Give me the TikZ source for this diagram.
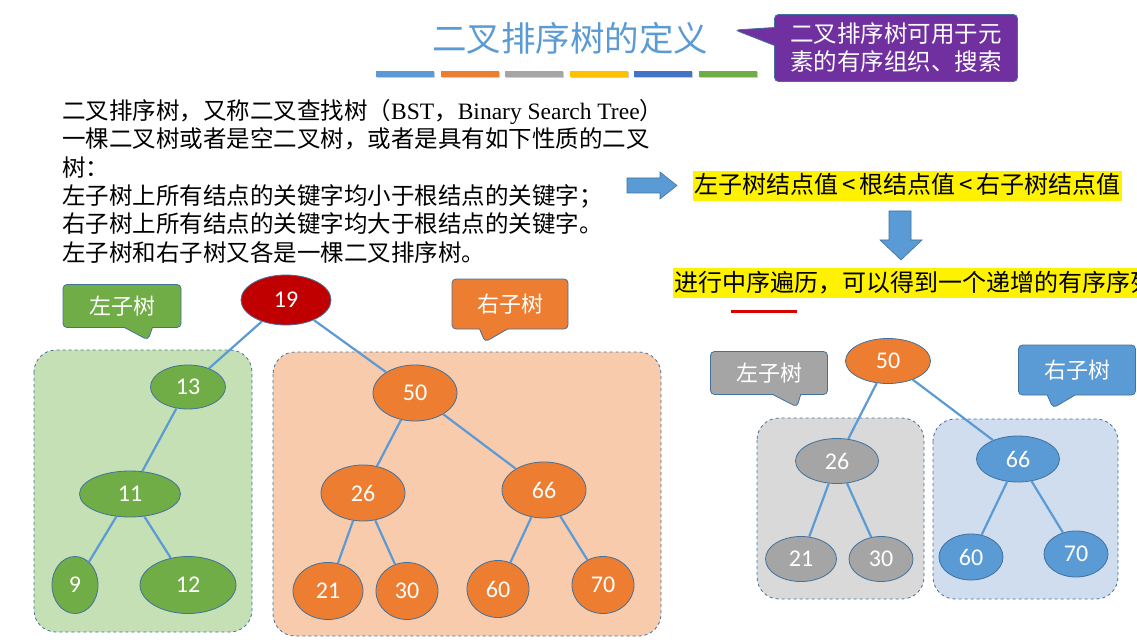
\documentclass[tikz,border=0pt]{standalone}
\usepackage{fontspec}
\setmainfont{Liberation Serif}
\newfontfamily\cjk{Noto Sans CJK SC}
\newfontfamily\numfont{Carlito}
\usetikzlibrary{shapes.geometric,shapes.callouts}
\definecolor{lineblue}{RGB}{91,155,213}
\definecolor{nodeedge}{RGB}{65,113,156}
\definecolor{rootred}{RGB}{192,0,0}
\definecolor{leafgreen}{RGB}{112,173,71}
\definecolor{leaforange}{RGB}{237,125,49}
\definecolor{leafgray}{RGB}{165,165,165}
\definecolor{baryellow}{RGB}{255,192,0}
\definecolor{bardarkblue}{RGB}{68,114,196}
\definecolor{tagpurple}{RGB}{112,48,160}
\definecolor{boxgreen}{RGB}{197,224,180}
\definecolor{boxorange}{RGB}{248,203,173}
\definecolor{boxgray}{RGB}{217,217,217}
\definecolor{boxblue}{RGB}{207,221,239}
\tikzset{
  tree-node/.style={
    ellipse,
    draw=nodeedge,
    line width=0.8pt,
    inner sep=0pt,
    text=white,
    font=\numfont\fontsize{24}{24}\selectfont
  },
  wh/.style 2 args={minimum width=#1pt, minimum height=#2pt},
  node-red/.style={tree-node, fill=rootred},
  node-green/.style={tree-node, fill=leafgreen},
  node-orange/.style={tree-node, fill=leaforange},
  node-gray/.style={tree-node, fill=leafgray},
  node-blue/.style={tree-node, fill=lineblue},
  tree-edge/.style={draw=lineblue, line width=2.2pt},
  group-box/.style={draw=nodeedge, dashed, line width=0.8pt, rounded corners=22pt},
  tag/.style={
    rectangle callout,
    draw=nodeedge,
    line width=0.8pt,
    rounded corners=4pt,
    inner sep=0pt,
    text=white,
    font=\cjk\fontsize{22}{22}\selectfont,
    callout pointer width=28pt
  },
  hl-text/.style={
    fill=yellow,
    inner xsep=1pt,
    inner ysep=3pt,
    text height=20pt,
    text depth=4pt,
    font=\cjk\fontsize{24}{24}\selectfont
  },
  block-arrow/.style={fill=lineblue, draw=nodeedge, line width=0.6pt}
}

\begin{document}
\begin{tikzpicture}[x=1pt,y=-1pt]
  \useasboundingbox (0,0) rectangle (1137,644);

  % Title and colour bars
  \node[text=lineblue, font=\cjk\fontsize{34.5}{34.5}\selectfont] (title) at (570,38) {二叉排序树的定义};
  \foreach \c [count=\i from 0] in {lineblue,leaforange,leafgray,baryellow,bardarkblue,leafgreen} {
    \fill[black!20] (377+\i*64.6,72) rectangle ++(58,6);
    \fill[\c] (376+\i*64.6,71) rectangle ++(58,6);
  }
  \node[tag, fill=tagpurple, wh={243}{67}, align=center,
    font=\cjk\fontsize{23.5}{28}\selectfont,
    callout absolute pointer={(735,30)}, callout pointer width=18pt] (use) at (896,48)
    {二叉排序树可用于元\\素的有序组织、搜索};

  % Definition text
  \node[anchor=north west, align=left, inner sep=0pt,
    font=\cjk\fontsize{23.5}{28.4}\selectfont] (defn) at (62,99) {%
    二叉排序树，又称二叉查找树（{\rmfamily BST}，{\rmfamily Binary Search Tree}）\\
    一棵二叉树或者是空二叉树，或者是具有如下性质的二叉\\
    树：\\
    左子树上所有结点的关键字均小于根结点的关键字；\\
    右子树上所有结点的关键字均大于根结点的关键字。\\
    左子树和右子树又各是一棵二叉排序树。};

  % Arrows and highlighted rules
  \filldraw[block-arrow] (627,178) -- (660,178) -- (660,172) -- (677,185.5)
    -- (660,199) -- (660,193) -- (627,193) -- cycle;
  \node[hl-text, anchor=west] (rule) at (693,186) {左子树结点值\,<\,根结点值\,<\,右子树结点值};
  \filldraw[block-arrow] (889,211) -- (911,211) -- (911,240) -- (922,240)
    -- (901,260) -- (880,240) -- (889,240) -- cycle;
  \node[hl-text, anchor=west] (inorder) at (673,283) {进行中序遍历，可以得到一个递增的有序序列};
  \draw[red!85!black, line width=3pt] (731,311) -- (797,311);

  % Left: whole tree
  \draw[group-box, fill=boxgreen] (34,350) rectangle (252,632);
  \draw[group-box, fill=boxorange] (273,352) rectangle (661,636);
  \node[tag, fill=leafgreen, wh={118}{43}, callout absolute pointer={(148,340)}] (tag-l1) at (122,306) {左子树};
  \node[tag, fill=leaforange, wh={116}{50}, callout absolute pointer={(485,342)}] (tag-r1) at (510,304) {右子树};

  \node[node-red, wh={90}{50}] (n19) at (286,300) {19};
  \node[node-green, wh={75}{44}] (n13) at (188,387) {13};
  \node[node-green, wh={101}{46}] (n11) at (130,494) {11};
  \node[node-green, wh={46}{57}] (n9) at (75,585) {9};
  \node[node-green, wh={96}{57}] (n12) at (188,585) {12};
  \node[node-orange, wh={84}{56}] (n50) at (415,393) {50};
  \node[node-orange, wh={84}{56}] (n26) at (363,493) {26};
  \node[node-orange, wh={84}{56}] (n66) at (544,490) {66};
  \node[node-orange, wh={70}{57}] (n21) at (328,591) {21};
  \node[node-orange, wh={62}{57}] (n30) at (407,591) {30};
  \node[node-orange, wh={62}{57}] (n60) at (498,589) {60};
  \node[node-orange, wh={62}{57}] (n70) at (603,585) {70};

  \draw[tree-edge] (n19) -- (n13);
  \draw[tree-edge] (n19) -- (n50);
  \draw[tree-edge] (n13) -- (n11);
  \draw[tree-edge] (n11) -- (n9);
  \draw[tree-edge] (n11) -- (n12);
  \draw[tree-edge] (n50) -- (n26);
  \draw[tree-edge] (n50) -- (n66);
  \draw[tree-edge] (n26) -- (n21);
  \draw[tree-edge] (n26) -- (n30);
  \draw[tree-edge] (n66) -- (n60);
  \draw[tree-edge] (n66) -- (n70);

  % Right: subtree of 50
  \draw[group-box, fill=boxgray] (757,418) rectangle (924,599);
  \draw[group-box, fill=boxblue] (933,419) rectangle (1118,599);
  \node[tag, fill=leafgray, wh={117}{43}, callout absolute pointer={(797,407)}] (tag-l2) at (769,373) {左子树};
  \node[tag, fill=lineblue, wh={117}{50}, callout absolute pointer={(1053,408)}] (tag-r2) at (1077,370) {右子树};

  \node[node-orange, wh={85}{45}] (m50) at (888,361) {50};
  \node[node-gray, wh={83}{45}] (m26) at (837,461) {26};
  \node[node-blue, wh={83}{46}] (m66) at (1018,459) {66};
  \node[node-gray, wh={71}{45}] (m21) at (801,559) {21};
  \node[node-gray, wh={64}{45}] (m30) at (881,559) {30};
  \node[node-blue, wh={64}{46}] (m60) at (971,557) {60};
  \node[node-blue, wh={64}{46}] (m70) at (1076,554) {70};

  \draw[tree-edge] (m50) -- (m26);
  \draw[tree-edge] (m50) -- (m66);
  \draw[tree-edge] (m26) -- (m21);
  \draw[tree-edge] (m26) -- (m30);
  \draw[tree-edge] (m66) -- (m60);
  \draw[tree-edge] (m66) -- (m70);
\end{tikzpicture}
\end{document}
